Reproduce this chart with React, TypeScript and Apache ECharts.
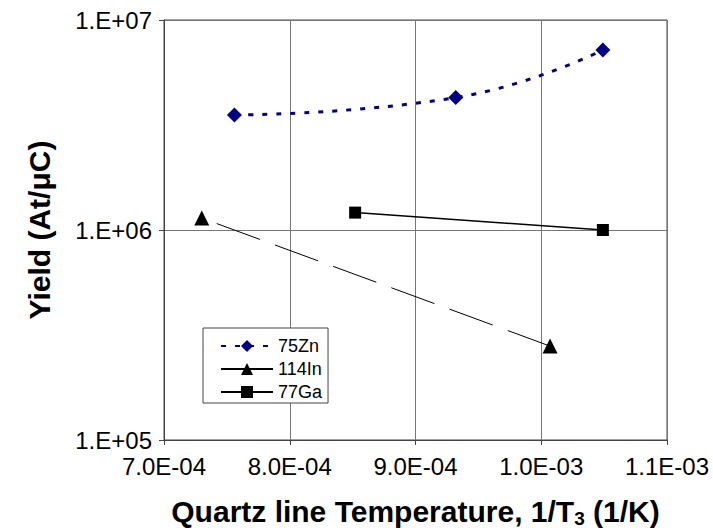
import React, { useEffect, useRef } from "react";
import * as echarts from "echarts";

const seriesNames = ["75Zn", "114In", "77Ga"];
const xZn = [7.56e-4, 9.32e-4, 1.049e-3];
const yZn = [3.53e6, 4.27e6, 7.2e6];
const xIn = [7.3e-4, 1.007e-3];
const yIn = [1.14e6, 2.8e5];
const xGa = [8.52e-4, 1.049e-3];
const yGa = [1.21e6, 1.0e6];
const xTicks = { min: 7e-4, max: 1.1e-3, interval: 1e-4 };
const yTicks = { min: 1e5, max: 1e7 };

const FONT = "'Liberation Sans', Arial, sans-serif";

function fmtX(v: number): string {
  const [m, e] = v.toExponential(1).split("e");
  const n = parseInt(e, 10);
  return m.toUpperCase() + "E" + (n < 0 ? "-" : "+") + String(Math.abs(n)).padStart(2, "0");
}
function fmtY(v: number): string {
  const e = Math.round(Math.log10(v));
  return "1.E+" + String(e).padStart(2, "0");
}
const zip = (xs: number[], ys: number[]) => xs.map((x, i) => [x, ys[i]]);

export default function App() {
  const ref = useRef<HTMLDivElement>(null);
  useEffect(() => {
    if (!ref.current) return;
    const chart = echarts.init(ref.current, null, { renderer: "svg" });
    chart.setOption({
      animation: false,
      backgroundColor: "#fff",
      textStyle: { fontFamily: FONT },
      grid: {
        left: 164,
        top: 20,
        width: 503,
        height: 420,
        show: true,
        borderColor: "#444",
        borderWidth: 1,
        outerBoundsMode: "none",
      },
      xAxis: {
        type: "value",
        min: xTicks.min,
        max: xTicks.max,
        interval: xTicks.interval,
        name: "Quartz line Temperature, 1/T{sub|3} (1/K)",
        nameLocation: "middle",
        nameGap: 55,
        nameTextStyle: {
          fontFamily: FONT,
          fontSize: 30,
          fontWeight: "bold",
          color: "#000",
          rich: {
            sub: { fontFamily: FONT, fontSize: 19, fontWeight: "bold", color: "#000", padding: [14, 0, 0, 0] },
          },
        },
        axisLine: { show: true, lineStyle: { color: "#444", width: 1 } },
        axisTick: { show: true, inside: false, length: 5, lineStyle: { color: "#444" } },
        axisLabel: { formatter: fmtX, fontSize: 24, color: "#000", margin: 14, fontFamily: FONT },
        splitLine: { show: true, lineStyle: { color: "#777", width: 1 } },
      },
      yAxis: {
        type: "log",
        logBase: 10,
        min: yTicks.min,
        max: yTicks.max,
        name: "Yield (At/\u03bcC)",
        nameLocation: "middle",
        nameGap: 110,
        nameTextStyle: { fontFamily: FONT, fontSize: 30, fontWeight: "bold", color: "#000" },
        axisLine: { show: true, lineStyle: { color: "#444", width: 1 } },
        axisTick: { show: true, inside: false, length: 5, lineStyle: { color: "#444" } },
        axisLabel: { formatter: fmtY, fontSize: 24, color: "#000", margin: 12, fontFamily: FONT },
        splitLine: { show: true, lineStyle: { color: "#777", width: 1 } },
        minorTick: { show: false },
      },
      legend: {
        orient: "vertical",
        left: 203,
        top: 328,
        backgroundColor: "#fff",
        borderColor: "#444",
        borderWidth: 1,
        borderRadius: 0,
        padding: [9, 6, 2, 17],
        itemWidth: 52,
        itemHeight: 15,
        itemGap: 5,
        textStyle: { fontFamily: FONT, fontSize: 18, color: "#000", lineHeight: 18 },
        data: [
          { name: seriesNames[0] },
          { name: seriesNames[1], lineStyle: { type: "solid" } },
          { name: seriesNames[2] },
        ],
      },
      series: [
        {
          name: seriesNames[0],
          type: "line",
          data: zip(xZn, yZn),
          smooth: true,
          symbol: "diamond",
          symbolSize: 15,
          itemStyle: { color: "#000080" },
          lineStyle: { color: "#000080", width: 3, type: [5, 9] },
          z: 3,
        },
        {
          name: seriesNames[1],
          type: "line",
          data: zip(xIn, yIn),
          symbol: "triangle",
          symbolSize: 15,
          itemStyle: { color: "#000" },
          lineStyle: { color: "#000", width: 1, type: [46, 16], dashOffset: 46 },
          z: 2,
        },
        {
          name: seriesNames[2],
          type: "line",
          data: zip(xGa, yGa),
          symbol: "rect",
          symbolSize: 12,
          itemStyle: { color: "#000" },
          lineStyle: { color: "#000", width: 1.5 },
          z: 2,
        },
      ],
    });
    return () => chart.dispose();
  }, []);
  return (
    <div
      ref={ref}
      style={{ position: "fixed", left: 0, top: 0, width: 713, height: 528, background: "#fff" }}
    />
  );
}
